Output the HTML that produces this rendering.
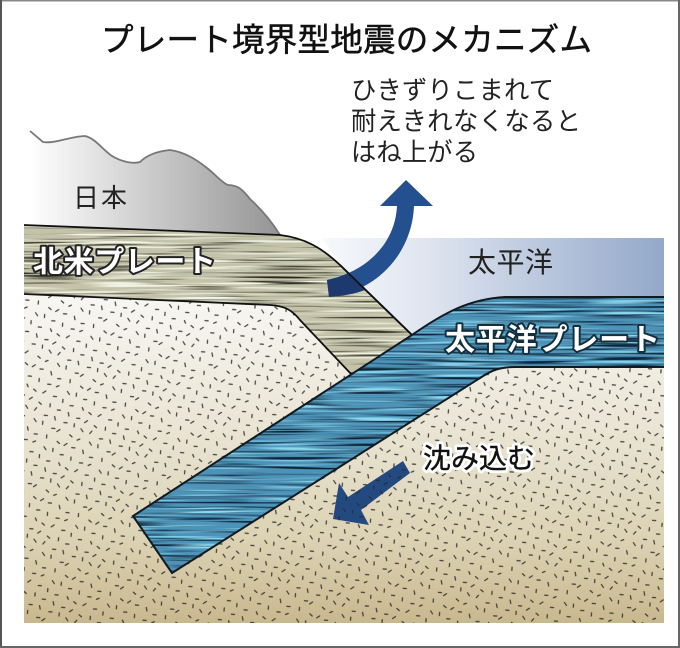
<!DOCTYPE html>
<html lang="ja"><head><meta charset="utf-8">
<style>
html,body{margin:0;padding:0;background:#fff}
svg{display:block}
text{font-family:"Liberation Sans","Noto Sans CJK JP",sans-serif}
</style></head><body>
<svg width="680" height="648" viewBox="0 0 680 648" xmlns="http://www.w3.org/2000/svg">
<defs>
<linearGradient id="mtn" gradientUnits="userSpaceOnUse" x1="30" y1="0" x2="280" y2="0"><stop offset="0" stop-color="#fff"/><stop offset=".4" stop-color="#d4d4d4"/><stop offset="1" stop-color="#949494"/></linearGradient>
<linearGradient id="sea" gradientUnits="userSpaceOnUse" x1="325" y1="0" x2="664" y2="0"><stop offset="0" stop-color="#f6f8fb"/><stop offset=".3" stop-color="#dfe5f0"/><stop offset="1" stop-color="#93a8ca"/></linearGradient>
<linearGradient id="man" gradientUnits="userSpaceOnUse" x1="0" y1="294" x2="0" y2="623"><stop offset="0" stop-color="#f8f7f3"/><stop offset=".4" stop-color="#eae5d5"/><stop offset=".75" stop-color="#dcd2b3"/><stop offset="1" stop-color="#c8b88e"/></linearGradient>
<pattern id="sp" width="60" height="60" patternUnits="userSpaceOnUse" patternTransform="rotate(23)"><path fill="none" stroke="#2a2a2a" stroke-width="1.25" stroke-linecap="round" stroke-opacity=".85" d="M2 3l3 2M13 1l-1 3M23 5l3-1M33 2l2 3M44 4l3-1M54 1l1 3M5 13l-2 2M15 12l3 2M24 11l1 3M35 14l3-1M43 12l-2 3M54 13l3 1M1 24l3-1M12 22l2 3M24 25l-3 1M33 22l1 3M45 24l3 1M55 22l-2 3M4 33l1 3M14 35l3-1M25 32l-2 2M35 34l3 2M44 32l1 3M53 35l3-1M3 45l3 1M15 42l-2 3M24 44l3-1M34 43l1 3M46 45l-3 1M55 43l2 2M5 53l-2 3M13 55l3 1M24 52l1 3M33 55l3-1M44 53l2 3M54 55l3-1"/></pattern>
<filter id="strA" x="0" y="0" width="100%" height="100%" color-interpolation-filters="sRGB"><feTurbulence type="fractalNoise" baseFrequency="0.012 0.47" numOctaves="1" seed="4"/><feColorMatrix values="0 0 0 0 .15 0 0 0 0 .15 0 0 0 0 .1 3.4 3.4 0 0 -3.5"/></filter>
<filter id="strB" x="0" y="0" width="100%" height="100%" color-interpolation-filters="sRGB"><feTurbulence type="fractalNoise" baseFrequency="0.012 0.47" numOctaves="1" seed="11"/><feColorMatrix values="0 0 0 0 .95 0 0 0 0 .96 0 0 0 0 .9 3.4 3.4 0 0 -3.4"/></filter>
<filter id="strC" x="0" y="0" width="100%" height="100%" color-interpolation-filters="sRGB"><feTurbulence type="fractalNoise" baseFrequency="0.012 0.47" numOctaves="1" seed="7"/><feColorMatrix values="0 0 0 0 .05 0 0 0 0 .14 0 0 0 0 .22 3.4 3.4 0 0 -3.3"/></filter>
<filter id="strD" x="0" y="0" width="100%" height="100%" color-interpolation-filters="sRGB"><feTurbulence type="fractalNoise" baseFrequency="0.012 0.47" numOctaves="1" seed="19"/><feColorMatrix values="0 0 0 0 .55 0 0 0 0 .85 0 0 0 0 .93 3.4 3.4 0 0 -3.5"/></filter>
<clipPath id="cNA"><path d="M24 225L280 235C305 238 322 248 340 265L412 335L352 375L300 320C292 310 285 306 270 305L24 294Z"/></clipPath>
<clipPath id="cPA"><path d="M664 297H505C470 299 445 312 412 335L133 516L172 573L480 378C492 370 500 367 515 367H664Z"/></clipPath>
</defs>

<rect width="680" height="648" fill="#fff"/>
<rect x="0" y="0" width="680" height="1.5" fill="#888"/>
<rect x="0" y="0" width="2" height="648" fill="#555"/>
<rect x="678" y="0" width="2" height="648" fill="#666"/>
<rect x="0" y="646" width="680" height="2" fill="#666"/>

<!-- mantle -->
<rect x="24" y="294" width="640" height="329" fill="url(#man)"/>
<rect x="24" y="294" width="640" height="329" fill="url(#sp)"/>

<!-- ocean -->
<path d="M322 238H664V297H505C470 299 445 312 412 335L340 265C335 258 328 245 322 238Z" fill="url(#sea)"/>

<!-- mountain -->
<path d="M30 131L43 142C55 144 72 136 85 136C95 138 103 150 112 156C122 162 133 164 140 162C148 154 160 151 170 150C185 152 197 160 207 168C215 174 222 183 228 185C238 185 243 190 250 199C262 210 272 222 280 235L24 225Z" fill="url(#mtn)"/>
<path d="M30 131L43 142C55 144 72 136 85 136C95 138 103 150 112 156C122 162 133 164 140 162C148 154 160 151 170 150C185 152 197 160 207 168C215 174 222 183 228 185C238 185 243 190 250 199C262 210 272 222 280 235" fill="none" stroke="#777" stroke-width="1.8"/>

<!-- North American plate -->
<g clip-path="url(#cNA)">
<rect x="24" y="220" width="400" height="160" fill="#c4c3aa"/>
<rect x="24" y="220" width="400" height="160" filter="url(#strA)"/>
<rect x="24" y="220" width="400" height="160" filter="url(#strB)"/>
</g>
<path d="M24 225L280 235C305 238 322 248 340 265L412 335M352 375L300 320C292 310 285 306 270 305L24 294" fill="none" stroke="#111" stroke-width="1.8"/>

<!-- Up arrow -->
<path d="M327 280C365 272 395 245 397 206H380L406 180L433 206H414C412 255 375 292 329 297Z" fill="#25508f"/>
<g clip-path="url(#cNA)"><path d="M327 280C340 277 350 273 358 268L365 290C355 294 342 296 329 297Z" fill="#1c3a6e"/></g>
<path d="M340 265L412 335" fill="none" stroke="#111" stroke-width="1.8"/>

<!-- Pacific plate -->
<g clip-path="url(#cPA)">
<rect x="130" y="295" width="536" height="280" fill="#4d93b8"/>
<rect x="130" y="295" width="536" height="280" filter="url(#strC)"/>
<rect x="130" y="295" width="536" height="280" filter="url(#strD)"/>
</g>
<path d="M664 297H505C470 299 445 312 412 335L133 516L172 573L480 378C492 370 500 367 515 367H664" fill="none" stroke="#101a20" stroke-width="2"/>

<!-- Down arrow -->
<path d="M403 461L410 473L361 510L369 525L333 519L339 483L348 497Z" fill="#234a80"/>
<path d="M403 461L410 473L361 510L369 525L333 519L339 483L348 497Z" fill="url(#sp)"/>

<!-- Text -->
<text x="101" y="51" font-size="32.5" textLength="491" lengthAdjust="spacing" fill="#111" stroke="#111" stroke-width=".5">プレート境界型地震のメカニズム</text>
<g font-size="25.3" fill="#222">
<text x="351" y="99" textLength="203">ひきずりこまれて</text>
<text x="351" y="130" textLength="230">耐えきれなくなると</text>
<text x="351" y="161" textLength="127">はね上がる</text>
</g>
<text x="73" y="207" font-size="26" textLength="54" fill="#222">日本</text>
<text x="468" y="272" font-size="28" textLength="85" fill="#222">太平洋</text>

<g font-size="30" font-weight="bold">
<text x="33" y="272" textLength="183" fill="none" stroke="#222" stroke-width="4" stroke-linejoin="round">北米プレート</text>
<text x="33" y="272" textLength="183" fill="#fff">北米プレート</text>
<text x="445" y="350" textLength="215" fill="none" stroke="#12303f" stroke-width="4" stroke-linejoin="round">太平洋プレート</text>
<text x="445" y="350" textLength="215" fill="#fff">太平洋プレート</text>
</g>
<g font-size="28" stroke-linejoin="round">
<text x="423" y="468" textLength="112" fill="none" stroke="#fff" stroke-width="6">沈み込む</text>
<text x="423" y="468" textLength="112" fill="#111" stroke="#111" stroke-width=".4">沈み込む</text>
</g>
</svg>
</body></html>
